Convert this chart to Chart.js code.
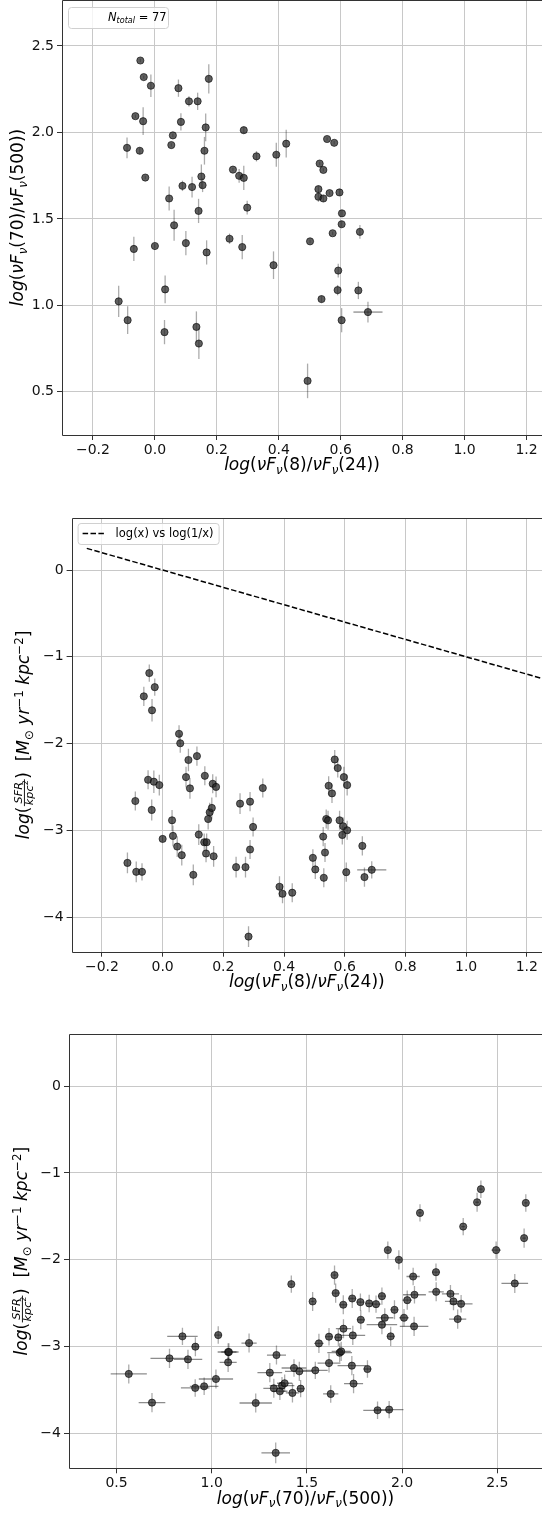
<!DOCTYPE html>
<html>
<head>
<meta charset="utf-8">
<script src="https://cdn.jsdelivr.net/npm/chart.js@4.4.1/dist/chart.umd.min.js"></script>
<style>
  html, body { margin: 0; padding: 0; background: #fff; }
  body { width: 542px; height: 1513px; position: relative; overflow: hidden; }
  canvas { position: absolute; left: 0; }
</style>
</head>
<body>
<canvas id="panel_8_24_vs_70_500" width="542" height="480" style="top:0px"></canvas>
<canvas id="panel_8_24_vs_sfr" width="542" height="500" style="top:500px"></canvas>
<canvas id="panel_70_500_vs_sfr" width="542" height="498" style="top:1015px"></canvas>
<script>
// ---- data ----
// top panel: log(nuFnu(8)/nuFnu(24)) vs log(nuFnu(70)/nuFnu(500))
const p1X = [-0.047,-0.036,-0.013,-0.063,-0.038,-0.09,-0.049,-0.031,0.076,0.174,
  0.11,0.138,0.084,0.164,0.058,0.053,0.16,0.287,0.424,0.392,
  0.328,0.252,0.272,0.287,0.15,0.089,0.12,0.154,0.046,0.556,
  0.579,0.532,0.544,0.528,0.564,0.596,0.528,0.544,0.141,0.298,
  0.604,0.603,0.062,0.574,0.662,0.241,0.501,0.1,0.0,-0.068,
  0.282,0.167,0.383,0.592,0.033,0.59,0.657,0.538,-0.117,0.688,
  -0.088,0.603,0.134,0.031,0.142,0.493];
const p1Y = [2.416,2.32,2.27,2.094,2.065,1.911,1.894,1.739,2.256,2.31,
  2.18,2.18,2.061,2.029,1.983,1.927,1.894,2.013,1.935,1.871,
  1.862,1.785,1.749,1.737,1.745,1.691,1.684,1.695,1.618,1.962,
  1.94,1.82,1.783,1.672,1.649,1.653,1.628,1.618,1.546,1.565,
  1.532,1.469,1.463,1.417,1.425,1.385,1.37,1.36,1.343,1.326,
  1.337,1.306,1.232,1.201,1.092,1.088,1.086,1.036,1.023,0.961,
  0.914,0.914,0.875,0.845,0.779,0.563];
const p1YErr = [0.01,0.01,0.065,0.01,0.08,0.06,0.02,0.01,0.05,0.085,
  0.03,0.05,0.05,0.08,0.01,0.01,0.08,0.02,0.08,0.07,
  0.03,0.01,0.04,0.07,0.07,0.03,0.06,0.04,0.07,0.01,
  0.01,0.01,0.01,0.02,0.01,0.02,0.03,0.02,0.07,0.04,
  0.02,0.02,0.09,0.01,0.04,0.03,0.01,0.07,0.01,0.07,
  0.07,0.07,0.08,0.04,0.08,0.03,0.05,0.02,0.09,0.06,
  0.08,0.07,0.09,0.07,0.09,0.1];
const p1XErr = [0,0,0,0,0,0,0,0,0,0, 0,0,0,0,0,0,0,0,0,0, 0,0,0,0,0,0,0,0,0,0,
  0,0,0,0,0,0,0,0,0,0, 0,0,0,0,0,0,0,0,0,0, 0,0,0,0,0,0,0,0,0,0.047,
  0,0,0,0,0,0];

// middle panel: log(nuFnu(8)/nuFnu(24)) vs log(SFR/kpc^2)
const p2X = [-0.044,-0.026,-0.062,-0.035,0.054,0.058,0.113,0.085,0.077,0.09,
  0.139,0.165,0.176,-0.048,-0.029,-0.011,-0.09,-0.036,0.031,0.0,
  0.034,0.048,0.063,-0.116,-0.087,-0.068,0.101,0.119,0.137,0.145,
  0.143,0.168,0.15,0.155,0.162,0.255,0.288,0.33,0.298,0.288,
  0.242,0.273,0.283,0.385,0.395,0.427,0.567,0.577,0.597,0.608,
  0.547,0.558,0.539,0.545,0.583,0.595,0.608,0.592,0.529,0.535,
  0.495,0.503,0.531,0.605,0.658,0.665,0.689];
const p2Y = [-1.188,-1.35,-1.456,-1.617,-1.888,-1.997,-2.145,-2.19,-2.387,-2.517,
  -2.372,-2.464,-2.5,-2.418,-2.44,-2.479,-2.663,-2.766,-2.885,-3.1,
  -3.065,-3.188,-3.287,-3.376,-3.479,-3.479,-3.514,-3.05,-3.138,-3.138,
  -3.268,-3.3,-2.87,-2.793,-2.743,-2.693,-2.67,-2.513,-2.962,-3.222,
  -3.425,-3.425,-4.226,-3.651,-3.732,-3.72,-2.184,-2.283,-2.387,-2.479,
  -2.487,-2.575,-2.87,-2.885,-2.885,-2.954,-3.0,-3.054,-3.073,-3.257,
  -3.318,-3.452,-3.548,-3.483,-3.18,-3.54,-3.456];
const p2YErr = [0.1,0.1,0.11,0.13,0.1,0.11,0.11,0.13,0.12,0.12,
  0.11,0.11,0.12,0.11,0.13,0.12,0.11,0.12,0.12,0.03,
  0.12,0.12,0.12,0.12,0.12,0.1,0.12,0.12,0.1,0.1,
  0.1,0.12,0.12,0.11,0.12,0.12,0.11,0.11,0.11,0.11,
  0.12,0.12,0.12,0.12,0.11,0.11,0.11,0.11,0.12,0.12,
  0.11,0.11,0.11,0.11,0.11,0.1,0.11,0.11,0.11,0.11,
  0.1,0.11,0.11,0.11,0.11,0.11,0.1];
const p2XErr = [0,0,0,0,0,0,0,0,0,0, 0,0,0,0,0,0,0,0,0,0, 0,0,0,0,0,0,0,0,0,0,
  0,0,0,0,0,0,0,0,0,0, 0,0,0,0,0,0,0,0,0,0, 0,0,0,0,0,0,0,0,0,0,
  0,0,0,0,0,0,0.048];
const lineX = [-0.25, 1.25];
const lineY = [0.25, -1.25];

// bottom panel: log(nuFnu(70)/nuFnu(500)) vs log(SFR/kpc^2)
const p3X = [2.094,2.321,2.394,2.414,2.65,2.641,2.494,1.925,1.983,2.592,
  2.178,1.645,1.418,2.058,1.651,2.179,2.254,2.065,1.53,1.738,
  1.894,2.027,2.27,2.31,1.691,1.781,1.827,1.863,1.96,1.909,
  2.01,1.783,2.292,1.894,2.063,1.692,1.616,1.665,1.741,1.94,
  1.563,1.672,1.68,1.616,1.736,1.818,1.544,1.745,1.625,1.871,
  1.932,1.432,1.46,1.34,1.305,1.326,1.358,1.369,1.383,1.424,
  1.467,1.336,1.231,1.196,1.034,1.086,1.09,1.086,1.022,0.96,
  0.913,0.914,0.846,0.778,0.875,0.564,0.686];
const p3Y = [-1.46,-1.617,-1.337,-1.187,-1.345,-1.75,-1.888,-1.888,-2.0,-2.272,
  -2.142,-2.176,-2.28,-2.192,-2.383,-2.368,-2.391,-2.402,-2.479,-2.445,
  -2.418,-2.464,-2.479,-2.506,-2.517,-2.487,-2.502,-2.51,-2.575,-2.667,
  -2.667,-2.69,-2.682,-2.747,-2.766,-2.793,-2.885,-2.893,-2.87,-2.881,
  -2.962,-3.069,-3.054,-3.188,-3.218,-3.257,-3.272,-3.425,-3.544,-3.732,
  -3.724,-3.245,-3.284,-3.096,-3.299,-3.479,-3.513,-3.448,-3.421,-3.532,
  -3.483,-4.222,-3.648,-2.958,-2.866,-3.061,-3.061,-3.18,-3.372,-3.456,
  -3.475,-3.0,-2.881,-3.134,-3.146,-3.314,-3.644];
const p3XErr = [0.01,0.01,0.01,0.01,0.01,0.01,0.025,0.01,0.01,0.07,
  0.02,0.01,0.01,0.035,0.02,0.04,0.045,0.06,0.01,0.02,
  0.02,0.025,0.045,0.06,0.02,0.02,0.02,0.025,0.02,0.045,
  0.025,0.02,0.045,0.08,0.075,0.04,0.02,0.02,0.065,0.02,
  0.025,0.065,0.05,0.06,0.075,0.02,0.065,0.05,0.04,0.075,
  0.075,0.065,0.075,0.05,0.065,0.055,0.04,0.065,0.04,0.035,
  0.02,0.075,0.085,0.04,0.02,0.055,0.04,0.045,0.09,0.075,
  0.075,0.02,0.08,0.1,0.075,0.095,0.07];
const p3YErr = [0.1,0.1,0.11,0.1,0.1,0.11,0.1,0.1,0.11,0.11,
  0.1,0.11,0.1,0.1,0.11,0.11,0.1,0.1,0.11,0.11,
  0.1,0.11,0.1,0.1,0.11,0.1,0.1,0.1,0.11,0.11,
  0.1,0.11,0.11,0.11,0.11,0.11,0.1,0.1,0.11,0.11,
  0.11,0.11,0.11,0.11,0.11,0.1,0.1,0.11,0.1,0.1,
  0.1,0.1,0.11,0.11,0.11,0.11,0.1,0.1,0.1,0.11,
  0.1,0.12,0.11,0.11,0.1,0.1,0.1,0.11,0.11,0.1,
  0.1,0.11,0.1,0.11,0.11,0.11,0.11];

// tick labels
const ticksColorX = [-0.2, 0.0, 0.2, 0.4, 0.6, 0.8, 1.0, 1.2];
const ticksColorY = [0.5, 1.0, 1.5, 2.0, 2.5];
const ticksFarIrX = [0.5, 1.0, 1.5, 2.0, 2.5];
const ticksSfrY = [-4, -3, -2, -1, 0];
const nTotal = 77;

// ---- drawing helpers ----
const FONT = '"DejaVu Sans", "Liberation Sans", sans-serif';

function fontOf(run, base) {
  return (run.it ? "italic " : "") + (base * (run.scale || 1)) + "px " + FONT;
}
function seqWidth(ctx, runs, base) {
  return runs.reduce((s, r) => s + runWidth(ctx, r, base), 0);
}
function runWidth(ctx, run, base) {
  if (run.frac) {
    return Math.max(seqWidth(ctx, run.frac[0], base), seqWidth(ctx, run.frac[1], base)) + 3;
  }
  ctx.font = fontOf(run, base);
  return ctx.measureText(run.t).width;
}
function drawSeq(ctx, runs, x, y, base) {
  runs.forEach((r) => {
    const w = runWidth(ctx, r, base);
    if (r.frac) {
      const nw = seqWidth(ctx, r.frac[0], base);
      const dw = seqWidth(ctx, r.frac[1], base);
      const axis = y - base * 0.3;
      drawSeq(ctx, r.frac[0], x + (w - nw) / 2, axis - base * 0.14, base);
      drawSeq(ctx, r.frac[1], x + (w - dw) / 2, axis + base * 0.5, base);
      ctx.fillRect(x + 0.5, axis - 0.4, w - 1, 0.9);
    } else {
      ctx.font = fontOf(r, base);
      ctx.fillText(r.t, x, y + (r.dy || 0) * base);
    }
    x += w;
  });
}
function drawMath(ctx, runs, cx, cy, base, rotate, align) {
  ctx.save();
  ctx.translate(cx, cy);
  if (rotate) ctx.rotate(-Math.PI / 2);
  ctx.textBaseline = "alphabetic";
  ctx.textAlign = "left";
  ctx.fillStyle = "#000";
  const w = seqWidth(ctx, runs, base);
  const x0 = align === "left" ? 0 : -w / 2;
  drawSeq(ctx, runs, x0, base * 0.32, base);
  ctx.restore();
}

const nuSub = { t: "\u03bd", it: 1, scale: 0.7, dy: 0.22 };
const titleRatio8_24 = [{ t: "log", it: 1 }, { t: "(" }, { t: "\u03bdF", it: 1 }, nuSub,
  { t: "(8)/" }, { t: "\u03bdF", it: 1 }, nuSub, { t: "(24))" }];
const titleRatio70_500 = [{ t: "log", it: 1 }, { t: "(" }, { t: "\u03bdF", it: 1 }, nuSub,
  { t: "(70)/" }, { t: "\u03bdF", it: 1 }, nuSub, { t: "(500))" }];
const titleSfr = [{ t: "log", it: 1 }, { t: "(" },
  { frac: [[{ t: "SFR", it: 1, scale: 0.66 }],
           [{ t: "kpc", it: 1, scale: 0.66 }, { t: "2", scale: 0.47, dy: -0.28 }]] },
  { t: ")  [" }, { t: "M", it: 1 }, { t: "\u2299", scale: 0.7, dy: 0.2 }, { t: " " },
  { t: "yr", it: 1 }, { t: "\u22121", scale: 0.7, dy: -0.38 }, { t: " " },
  { t: "kpc", it: 1 }, { t: "\u22122", scale: 0.7, dy: -0.38 }, { t: "]" }];

function fmt(dec) {
  return (v) => Number(v).toFixed(dec).replace("-", "\u2212");
}

// error bars through the chart's own scales
const errorBarsPlugin = {
  id: "errorBars",
  beforeDatasetsDraw(chart) {
    const { ctx, chartArea, scales } = chart;
    ctx.save();
    ctx.beginPath();
    ctx.rect(chartArea.left, chartArea.top, chartArea.right - chartArea.left, chartArea.bottom - chartArea.top);
    ctx.clip();
    ctx.lineWidth = 1.3;
    chart.data.datasets.forEach((ds) => {
      if (!ds.yErr) return;
      ds.data.forEach((p, i) => {
        const px = scales.x.getPixelForValue(p.x);
        const py = scales.y.getPixelForValue(p.y);
        const ye = ds.yErr[i], xe = ds.xErr[i];
        if (ye > 0) {
          ctx.strokeStyle = "rgba(0,0,0,0.33)";
          ctx.beginPath();
          ctx.moveTo(px, scales.y.getPixelForValue(p.y - ye));
          ctx.lineTo(px, scales.y.getPixelForValue(p.y + ye));
          ctx.stroke();
        }
        if (xe > 0) {
          ctx.strokeStyle = "rgba(0,0,0,0.45)";
          ctx.beginPath();
          ctx.moveTo(scales.x.getPixelForValue(p.x - xe), py);
          ctx.lineTo(scales.x.getPixelForValue(p.x + xe), py);
          ctx.stroke();
        }
      });
    });
    ctx.restore();
  },
};

// spines (left, bottom, top) and axis titles / legend boxes
function decorPlugin(opts) {
  return {
    id: "decor",
    afterDatasetsDraw(chart) {
      const { ctx, chartArea: a } = chart;
      ctx.save();
      ctx.strokeStyle = "#333";
      ctx.lineWidth = 1;
      ctx.beginPath();
      ctx.moveTo(a.right + 1, Math.round(a.top) + 0.5);
      ctx.lineTo(Math.round(a.left) + 0.5, Math.round(a.top) + 0.5);
      ctx.lineTo(Math.round(a.left) + 0.5, Math.round(a.bottom) + 0.5);
      ctx.lineTo(a.right + 1, Math.round(a.bottom) + 0.5);
      ctx.stroke();
      ctx.restore();
      drawMath(ctx, opts.xTitle, (a.left + a.right) / 2, a.bottom + 30, 17, false);
      drawMath(ctx, opts.yTitle, opts.yTitleX, (a.top + a.bottom) / 2, 17, true);
      if (opts.legend) opts.legend(ctx, a);
    },
  };
}

function legendBox(ctx, x, y, w, h) {
  ctx.save();
  ctx.fillStyle = "rgba(255,255,255,0.8)";
  ctx.strokeStyle = "#d0d0d0";
  ctx.lineWidth = 1;
  ctx.beginPath();
  ctx.roundRect(x + 0.5, y + 0.5, w, h, 3);
  ctx.fill();
  ctx.stroke();
  ctx.restore();
}

function noPadding(s) {
  s.paddingTop = 0;
  s.paddingBottom = 0;
  s.paddingLeft = 0;
  s.paddingRight = 0;
}

function makeScales(o) {
  const tickFont = { family: FONT, size: 14 };
  return {
    x: {
      type: "linear",
      min: o.xMin,
      max: o.xMax,
      afterBuildTicks: (s) => { s.ticks = o.xTicks.map((v) => ({ value: v })); },
      afterFit: (s) => { s.height = o.xAxisH; noPadding(s); },
      grid: { color: "#c8c8c8", lineWidth: 1, drawTicks: true, tickLength: 5, tickColor: "#333", tickWidth: 1 },
      border: { display: false },
      ticks: { font: tickFont, color: "#111", padding: 2, maxRotation: 0, autoSkip: false, callback: fmt(o.xDec) },
    },
    y: {
      type: "linear",
      min: o.yMin,
      max: o.yMax,
      afterBuildTicks: (s) => { s.ticks = o.yTicks.map((v) => ({ value: v })); },
      afterFit: (s) => { s.width = o.yAxisW; noPadding(s); },
      grid: { color: "#c8c8c8", lineWidth: 1, drawTicks: true, tickLength: 5, tickColor: "#333", tickWidth: 1 },
      border: { display: false },
      ticks: { font: tickFont, color: "#111", padding: 3, autoSkip: false, callback: fmt(o.yDec) },
    },
  };
}

function pointSet(xs, ys, xErr, yErr) {
  return {
    type: "scatter",
    data: xs.map((x, i) => ({ x: x, y: ys[i] })),
    xErr: xErr,
    yErr: yErr,
    pointRadius: 3.6,
    pointBackgroundColor: "rgba(35,35,35,0.72)",
    pointBorderColor: "rgba(0,0,0,0.75)",
    pointBorderWidth: 0.8,
  };
}

function makeChart(id, o, datasets, decor) {
  return new Chart(document.getElementById(id), {
    type: "scatter",
    data: { datasets: datasets },
    options: {
      responsive: false,
      animation: false,
      devicePixelRatio: 1,
      layout: { autoPadding: false, padding: { top: o.padTop, left: 0, right: 0, bottom: 0 } },
      plugins: { legend: { display: false }, tooltip: { enabled: false } },
      scales: makeScales(o),
    },
    plugins: [errorBarsPlugin, decorPlugin(decor)],
  });
}

// top panel
makeChart("panel_8_24_vs_70_500",
  { padTop: 0, xAxisH: 45, yAxisW: 62, xMin: -0.3, xMax: 1.25, yMin: 0.25, yMax: 2.766,
    xTicks: ticksColorX, yTicks: ticksColorY, xDec: 1, yDec: 1 },
  [pointSet(p1X, p1Y, p1XErr, p1YErr)],
  {
    xTitle: titleRatio8_24, yTitle: titleRatio70_500, yTitleX: 18,
    legend: (ctx, a) => {
      legendBox(ctx, a.left + 6, a.top + 7, 100, 21);
      drawMath(ctx, [{ t: "N", it: 1 }, { t: "total", it: 1, scale: 0.7, dy: 0.22 }, { t: " = " + nTotal }],
        a.left + 46, a.top + 17, 11.5, false, "left");
    },
  });

// middle panel
makeChart("panel_8_24_vs_sfr",
  { padTop: 18, xAxisH: 48.3, yAxisW: 71.6, xMin: -0.3, xMax: 1.25, yMin: -4.4, yMax: 0.6,
    xTicks: ticksColorX, yTicks: ticksSfrY, xDec: 1, yDec: 0 },
  [
    pointSet(p2X, p2Y, p2XErr, p2YErr),
    {
      type: "line",
      data: lineX.map((x, i) => ({ x: x, y: lineY[i] })),
      borderColor: "#000",
      borderWidth: 1.5,
      borderDash: [5.5, 2.4],
      pointRadius: 0,
      fill: false,
    },
  ],
  {
    xTitle: titleRatio8_24, yTitle: titleSfr, yTitleX: 24,
    legend: (ctx, a) => {
      legendBox(ctx, a.left + 6, a.top + 5, 141, 21);
      ctx.save();
      ctx.strokeStyle = "#000";
      ctx.lineWidth = 1.5;
      ctx.setLineDash([5.5, 2.4]);
      ctx.beginPath();
      ctx.moveTo(a.left + 11, a.top + 15.5);
      ctx.lineTo(a.left + 33, a.top + 15.5);
      ctx.stroke();
      ctx.restore();
      drawMath(ctx, [{ t: "log(x) vs log(1/x)" }], a.left + 44, a.top + 15.5, 11.5, false, "left");
    },
  });

// bottom panel
makeChart("panel_70_500_vs_sfr",
  { padTop: 19, xAxisH: 44.7, yAxisW: 69, xMin: 0.25, xMax: 2.735, yMin: -4.4, yMax: 0.6,
    xTicks: ticksFarIrX, yTicks: ticksSfrY, xDec: 1, yDec: 0 },
  [pointSet(p3X, p3Y, p3XErr, p3YErr)],
  { xTitle: titleRatio70_500, yTitle: titleSfr, yTitleX: 22 });
</script>
</body>
</html>
